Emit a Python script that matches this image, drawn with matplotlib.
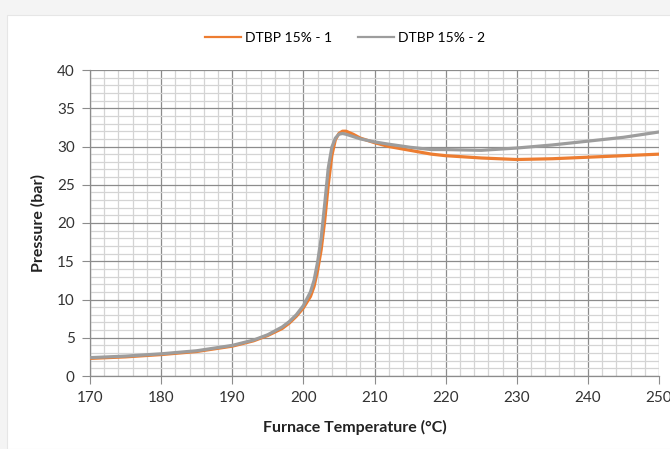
import matplotlib.pyplot as plt
from matplotlib.patches import Rectangle
from matplotlib.ticker import MultipleLocator

plt.rcParams['font.family'] = ['Lato', 'DejaVu Sans']

# furnace temperature (°C) and pressure (bar)
temp_1 = [170, 175, 180, 185, 190, 193, 195, 197, 198, 199, 200, 201, 201.5,
          202, 202.5, 203, 203.5, 204, 204.5, 205, 205.5, 206, 207, 208, 210,
          212, 215, 218, 220, 225, 230, 235, 240, 245, 250]
press_1 = [2.3, 2.5, 2.8, 3.2, 3.9, 4.6, 5.3, 6.2, 6.9, 7.8, 8.9, 10.4, 11.7,
           13.8, 16.5, 20.3, 25.0, 28.8, 30.9, 31.7, 32.0, 32.0, 31.6, 31.1, 30.5,
           30.0, 29.5, 29.0, 28.8, 28.5, 28.3, 28.4, 28.6, 28.8, 29.0]

temp_2 = [170, 175, 180, 185, 190, 193, 195, 197, 198, 199, 200, 201, 201.5,
          202, 202.5, 203, 203.5, 204, 204.5, 205, 205.5, 206, 207, 208, 210,
          212, 215, 218, 220, 225, 230, 235, 240, 245, 250]
press_2 = [2.4, 2.6, 2.9, 3.3, 4.0, 4.7, 5.4, 6.4, 7.1, 8.0, 9.2, 11.0, 12.5,
           14.9, 18.0, 22.5, 27.2, 29.9, 31.1, 31.6, 31.7, 31.6, 31.3, 31.0, 30.6,
           30.3, 29.9, 29.6, 29.6, 29.5, 29.8, 30.2, 30.7, 31.2, 31.9]

labels = ["DTBP 15% - 1", "DTBP 15% - 2"]


def main() -> None:
    fig = plt.figure(figsize=(6.7, 4.49), dpi=100, facecolor="#f4f4f4")
    fig.patches.append(Rectangle((7 / 670, 0), 1, 1 - 15 / 449,
                                 transform=fig.transFigure, facecolor="white",
                                 edgecolor="#e6e6e6", linewidth=0.8, zorder=-5))
    ax = fig.add_axes([90 / 670, 1 - 376 / 449, 569 / 670, 306 / 449])
    ax.set_zorder(1)
    ax.patch.set_alpha(0)

    ax.plot(temp_1, press_1, color="#ED7D31", lw=2.3, label=labels[0], zorder=3)
    ax.plot(temp_2, press_2, color="#9d9d9d", lw=2.3, label=labels[1], zorder=3)

    ax.set_xlim(170, 250)
    ax.set_ylim(0, 40)
    ax.xaxis.set_major_locator(MultipleLocator(10))
    ax.xaxis.set_minor_locator(MultipleLocator(2))
    ax.yaxis.set_major_locator(MultipleLocator(5))
    ax.yaxis.set_minor_locator(MultipleLocator(1))

    ax.grid(True, which="major", color="#8c8c8c", lw=0.9)
    ax.grid(True, which="minor", color="#d4d4d4", lw=0.9)
    ax.set_axisbelow(True)

    for side in ("top", "right"):
        ax.spines[side].set_visible(False)
    for side in ("left", "bottom"):
        ax.spines[side].set_color("#8c8c8c")
        ax.spines[side].set_linewidth(0.9)

    ax.tick_params(which="major", length=6, color="#8c8c8c", direction="out",
                   labelsize=11, labelcolor="#333333", pad=5)
    ax.tick_params(axis="x", which="major", pad=5)
    ax.tick_params(which="minor", length=0)

    ax.set_xlabel("Furnace Temperature (°C)", fontsize=11.5, fontweight="bold",
                  color="#222222")
    ax.xaxis.set_label_coords((355 - 90) / 569, -(420 - 376) / 306)
    ax.set_ylabel("Pressure (bar)", fontsize=11.5, fontweight="bold",
                  color="#222222")
    ax.yaxis.set_label_coords(-(90 - 46) / 569, 0.5)

    leg = fig.legend(loc="center", bbox_to_anchor=(345 / 670, 1 - 38 / 449),
                     ncol=2, frameon=False, fontsize=10, handlelength=2.6,
                     columnspacing=1.8, handletextpad=0.3)
    for line in leg.get_lines():
        line.set_linewidth(1.6)

    fig.savefig("out.png", dpi=100, facecolor=fig.get_facecolor())


if __name__ == "__main__":
    main()
